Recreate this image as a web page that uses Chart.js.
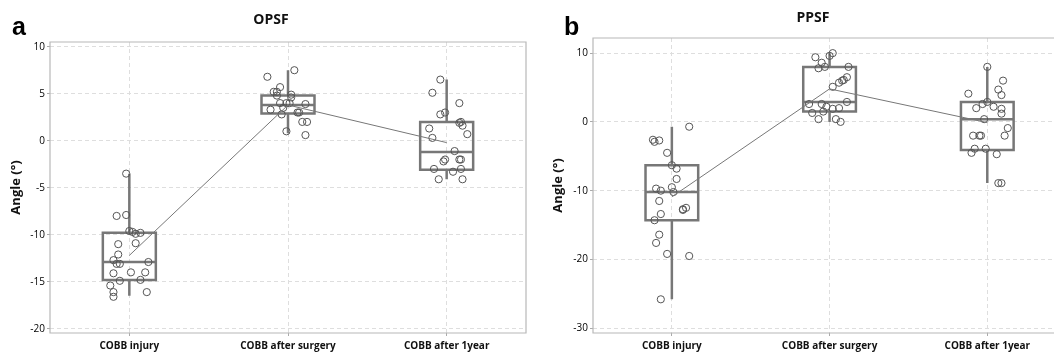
<!DOCTYPE html>
<html>
<head>
<meta charset="utf-8">
<script src="https://cdn.jsdelivr.net/npm/chart.js@4.4.1/dist/chart.umd.min.js"></script>
<style>
    html, body { margin: 0; padding: 0; overflow: hidden; background: #fff; width: 1054px; height: 352px; }
    .panel { position: absolute; top: 0; height: 352px; }
    #panelA { left: 0; width: 540px; }
    #panelB { left: 540px; width: 514px; }
</style>
</head>
<body>
<div class="panel" id="panelA"><canvas id="chartA" width="540" height="352"></canvas></div>
<div class="panel" id="panelB"><canvas id="chartB" width="514" height="352"></canvas></div>
<script>
const categories = ['COBB injury', 'COBB after surgery', 'COBB after 1year']

// panel a - OPSF
const opsfInjury = [-3.5, -8.0, -7.9, -9.6, -9.7, -9.9, -9.8, -11.0, -10.9, -12.1, -12.7, -13.1, -13.1, -12.9, -14.1, -14.0, -14.0, -14.9, -14.8, -15.4, -16.1, -16.6, -16.1]
const opsfInjuryJitter = [-0.02, -0.08, -0.02, 0, 0.02, 0.04, 0.07, -0.07, 0.04, -0.07, -0.10, -0.08, -0.06, 0.12, -0.10, 0.01, 0.10, -0.06, 0.07, -0.12, -0.10, -0.10, 0.11]
const opsfSurgery = [7.5, 6.8, 5.7, 5.2, 5.2, 4.8, 4.9, 4.6, 4.0, 4.0, 4.0, 3.9, 3.5, 3.3, 3.0, 3.0, 2.8, 2.0, 2.0, 1.0, 0.6]
const opsfSurgeryJitter = [0.04, -0.13, -0.05, -0.09, -0.07, -0.07, 0.02, 0.02, -0.05, -0.01, 0.01, 0.11, -0.03, -0.11, 0.06, 0.07, -0.04, 0.09, 0.12, -0.01, 0.11]
const opsfYear = [6.5, 5.1, 4.0, 2.8, 3.0, 1.9, 2.0, 1.6, 1.3, 0.7, 0.3, -1.1, -2.0, -2.2, -2.0, -2.0, -3.0, -3.3, -3.0, -4.1, -4.1]
const opsfYearJitter = [-0.04, -0.09, 0.08, -0.04, -0.01, 0.08, 0.09, 0.10, -0.11, 0.13, -0.09, 0.05, -0.01, -0.02, 0.08, 0.09, -0.08, 0.04, 0.09, -0.05, 0.10]
// [whisker low, q1, median, q3, whisker high]
const opsfBoxes = [
    [-16.5, -14.8, -12.9, -9.8, -3.5],
    [0.8, 2.9, 3.8, 4.8, 7.5],
    [-4.1, -3.1, -1.2, 2.0, 6.5]
]
const opsfMeans = [-12.2, 3.8, -0.2]

// panel b - PPSF
const ppsfInjury = [-0.7, -2.6, -2.9, -2.7, -4.5, -6.3, -6.8, -8.3, -9.5, -9.7, -10.0, -10.2, -11.5, -12.5, -12.7, -12.8, -13.4, -14.3, -16.4, -17.6, -19.2, -19.5, -25.8]
const ppsfInjuryJitter = [0.11, -0.12, -0.11, -0.08, -0.03, 0, 0.03, 0.03, 0, -0.10, -0.07, 0.01, -0.08, 0.09, 0.07, 0.07, -0.07, -0.11, -0.08, -0.10, -0.03, 0.11, -0.07]
const ppsfSurgery = [10.0, 9.6, 9.4, 8.6, 7.8, 8.0, 8.0, 6.5, 6.1, 6.0, 5.7, 5.1, 2.9, 2.6, 2.6, 2.2, 1.9, 2.0, 1.3, 1.5, 0.4, 0.4, 0.0]
const ppsfSurgeryJitter = [0.02, 0, -0.09, -0.05, -0.07, -0.03, 0.12, 0.11, 0.09, 0.08, 0.06, 0.02, 0.11, -0.13, -0.05, -0.02, 0.02, 0.06, -0.11, -0.04, -0.07, 0.04, 0.07]
const ppsfYear = [8.0, 6.0, 4.7, 3.9, 4.1, 2.9, 2.6, 2.0, 2.2, 1.9, 1.2, 0.4, -0.9, -2.0, -2.0, -2.0, -2.0, -3.9, -3.9, -4.5, -4.7, -8.9, -8.9]
const ppsfYearJitter = [0, 0.10, 0.07, 0.09, -0.12, 0, -0.03, -0.07, 0.04, 0.09, 0.09, -0.02, 0.13, -0.09, -0.05, -0.04, 0.11, -0.08, -0.01, -0.10, 0.06, 0.07, 0.09]
const ppsfBoxes = [
    [-25.8, -14.3, -10.2, -6.3, -0.7],
    [0.0, 1.5, 2.9, 8.0, 10.0],
    [-8.9, -4.1, 0.4, 2.9, 8.0]
]
const ppsfMeans = [-10.9, 4.8, -0.1]

const grey = '#777'
const fontFamily = "'Open Sans', 'Noto Sans', sans-serif"

function boxPlugin(stats) {
    return {
        id: 'boxes',
        beforeDatasetsDraw(chart) {
            const { ctx, scales: { x, y } } = chart
            const half = 0.167
            ctx.save()
            ctx.strokeStyle = grey
            ctx.lineWidth = 2.5
            stats.forEach((s, i) => {
                const [lo, q1, med, q3, hi] = s
                const xl = x.getPixelForValue(i - half)
                const xr = x.getPixelForValue(i + half)
                const xc = x.getPixelForValue(i)
                ctx.beginPath()
                ctx.moveTo(xc, y.getPixelForValue(hi))
                ctx.lineTo(xc, y.getPixelForValue(q3))
                ctx.moveTo(xc, y.getPixelForValue(q1))
                ctx.lineTo(xc, y.getPixelForValue(lo))
                ctx.moveTo(xl, y.getPixelForValue(med))
                ctx.lineTo(xr, y.getPixelForValue(med))
                ctx.rect(xl, y.getPixelForValue(q3), xr - xl, y.getPixelForValue(q1) - y.getPixelForValue(q3))
                ctx.stroke()
            })
            ctx.restore()
        }
    }
}

// plot frame, panel letter and title
function framePlugin(o) {
    return {
        id: 'frame',
        afterDraw(chart) {
            const { ctx, chartArea: a } = chart
            ctx.save()
            ctx.strokeStyle = '#b8b8b8'
            ctx.lineWidth = 1.2
            ctx.beginPath()
            ctx.moveTo(a.right + (o.openRight ? 2 : 0), a.top)
            ctx.lineTo(a.left, a.top)
            ctx.lineTo(a.left, a.bottom)
            ctx.lineTo(a.right + (o.openRight ? 2 : 0), a.bottom)
            if (!o.openRight) ctx.closePath()
            ctx.stroke()
            ctx.fillStyle = '#000'
            ctx.textBaseline = 'alphabetic'
            ctx.font = "bold 25px 'Liberation Sans', Arial, sans-serif"
            ctx.fillText(o.letter, o.letterX, 35)
            ctx.fillStyle = '#111'
            ctx.textAlign = 'center'
            ctx.textBaseline = 'middle'
            ctx.font = 'bold 14px ' + fontFamily
            ctx.fillText(o.title, o.titleX, o.titleY)
            ctx.restore()
        }
    }
}

function points(values, jitter, i) {
    return values.map((v, k) => ({ x: i + jitter[k], y: v }))
}

function makeChart(canvas, o) {
    const pointStyle = {
        type: 'scatter',
        pointRadius: 3.6,
        pointBorderWidth: 1,
        pointBorderColor: '#555',
        pointBackgroundColor: 'rgba(0,0,0,0)'
    }
    return new Chart(canvas, {
        type: 'scatter',
        data: {
            datasets: [
                {
                    type: 'line',
                    data: o.means.map((m, i) => ({ x: i, y: m })),
                    borderColor: grey,
                    borderWidth: 1,
                    pointRadius: 0,
                    fill: false
                },
                Object.assign({ data: points(o.groups[0][0], o.groups[0][1], 0) }, pointStyle),
                Object.assign({ data: points(o.groups[1][0], o.groups[1][1], 1) }, pointStyle),
                Object.assign({ data: points(o.groups[2][0], o.groups[2][1], 2) }, pointStyle)
            ]
        },
        options: {
            responsive: false,
            animation: false,
            events: [],
            layout: { autoPadding: false, padding: { top: o.top, right: o.rightPad, bottom: 0, left: 0 } },
            plugins: {
                legend: { display: false },
                tooltip: { enabled: false },
                title: { display: false }
            },
            scales: {
                x: {
                    type: 'linear',
                    min: -0.5,
                    max: o.xMax,
                    afterBuildTicks: s => { s.ticks = categories.map((c, i) => ({ value: i })) },
                    afterFit: s => { s.height = 19; s.paddingRight = 0 },
                    ticks: {
                        callback: v => categories[v],
                        autoSkip: false,
                        maxRotation: 0,
                        padding: 4,
                        color: '#111',
                        font: { family: fontFamily, size: 10, weight: 'bold' }
                    },
                    grid: { color: '#dedede', tickLength: 3, tickColor: '#aaa' },
                    border: { display: false, dash: [4, 3] }
                },
                y: {
                    min: o.yMin,
                    max: o.yMax,
                    afterFit: s => { s.width = o.yWidth },
                    ticks: {
                        stepSize: o.step,
                        includeBounds: false,
                        padding: 2,
                        color: '#000',
                        font: { family: fontFamily, size: 10 }
                    },
                    grid: { color: '#dedede', tickLength: 3, tickColor: '#aaa' },
                    border: { display: false, dash: [4, 3] },
                    title: {
                        display: true,
                        text: 'Angle (°)',
                        color: '#111',
                        font: { family: fontFamily, size: 13, weight: 'bold', lineHeight: 1.2 },
                        padding: { top: o.yTitlePad, bottom: 0 }
                    }
                }
            }
        },
        plugins: [boxPlugin(o.boxes), framePlugin(o)]
    })
}

makeChart(document.getElementById('chartA'), {
    title: 'OPSF',
    titleX: 271,
    titleY: 20,
    letter: 'a',
    letterX: 12,
    groups: [[opsfInjury, opsfInjuryJitter], [opsfSurgery, opsfSurgeryJitter], [opsfYear, opsfYearJitter]],
    boxes: opsfBoxes,
    means: opsfMeans,
    xMax: 2.5,
    yMin: -20.45,
    yMax: 10.5,
    step: 5,
    yWidth: 50,
    yTitlePad: 8,
    top: 42,
    rightPad: 14,
    openRight: false
})

// the source figure is cropped on the right, so panel b's x range stops short of 2.5
makeChart(document.getElementById('chartB'), {
    title: 'PPSF',
    titleX: 273,
    titleY: 18.5,
    letter: 'b',
    letterX: 24,
    groups: [[ppsfInjury, ppsfInjuryJitter], [ppsfSurgery, ppsfSurgeryJitter], [ppsfYear, ppsfYearJitter]],
    boxes: ppsfBoxes,
    means: ppsfMeans,
    xMax: 2.423,
    yMin: -30.7,
    yMax: 12.2,
    step: 10,
    yWidth: 53,
    yTitlePad: 10,
    top: 38,
    rightPad: 0,
    openRight: true
})
</script>
</body>
</html>
